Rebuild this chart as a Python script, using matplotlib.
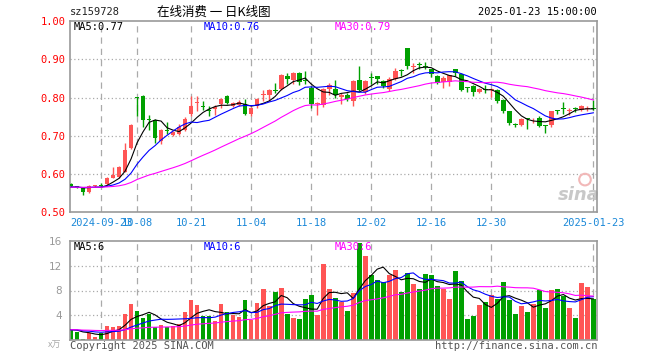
import numpy as np
import pandas as pd
import matplotlib
matplotlib.use("Agg")
import matplotlib.pyplot as plt

# daily candles, 2024-09-12 .. 2025-01-23
opens = [0.573, 0.567, 0.562, 0.553, 0.567, 0.570, 0.574, 0.589, 0.593, 0.606,
         0.668, 0.801, 0.805, 0.743, 0.742, 0.686, 0.716, 0.701, 0.705, 0.715,
         0.756, 0.785, 0.779, 0.768, 0.770, 0.783, 0.804, 0.779, 0.781, 0.782,
         0.756, 0.778, 0.806, 0.808, 0.820, 0.823, 0.856, 0.846, 0.865, 0.846,
         0.826, 0.784, 0.780, 0.822, 0.823, 0.802, 0.808, 0.791, 0.847, 0.814,
         0.853, 0.856, 0.843, 0.822, 0.849, 0.871, 0.929, 0.881, 0.888, 0.884,
         0.874, 0.856, 0.840, 0.840, 0.874, 0.863, 0.826, 0.830, 0.815, 0.822,
         0.820, 0.821, 0.793, 0.764, 0.730, 0.729, 0.745, 0.740, 0.747, 0.726,
         0.729, 0.765, 0.771, 0.764, 0.771, 0.767, 0.770, 0.771]
highs = [0.576, 0.569, 0.563, 0.571, 0.571, 0.575, 0.592, 0.617, 0.620, 0.681,
         0.730, 0.801, 0.806, 0.755, 0.745, 0.717, 0.735, 0.713, 0.730, 0.750,
         0.805, 0.803, 0.790, 0.777, 0.781, 0.799, 0.806, 0.788, 0.793, 0.797,
         0.776, 0.800, 0.821, 0.822, 0.839, 0.862, 0.865, 0.866, 0.868, 0.870,
         0.830, 0.788, 0.826, 0.839, 0.847, 0.812, 0.811, 0.845, 0.884, 0.845,
         0.865, 0.857, 0.845, 0.853, 0.877, 0.875, 0.930, 0.891, 0.893, 0.892,
         0.875, 0.858, 0.856, 0.860, 0.876, 0.865, 0.827, 0.832, 0.825, 0.832,
         0.826, 0.823, 0.795, 0.766, 0.733, 0.747, 0.746, 0.746, 0.752, 0.729,
         0.765, 0.768, 0.788, 0.773, 0.775, 0.780, 0.777, 0.794]
lows = [0.565, 0.563, 0.545, 0.550, 0.565, 0.565, 0.572, 0.588, 0.590, 0.604,
        0.665, 0.751, 0.723, 0.716, 0.682, 0.679, 0.705, 0.698, 0.702, 0.713,
        0.753, 0.764, 0.768, 0.751, 0.755, 0.773, 0.783, 0.774, 0.778, 0.755,
        0.753, 0.772, 0.790, 0.790, 0.812, 0.821, 0.835, 0.835, 0.832, 0.835,
        0.772, 0.755, 0.776, 0.808, 0.799, 0.784, 0.792, 0.777, 0.818, 0.810,
        0.835, 0.835, 0.825, 0.818, 0.845, 0.856, 0.876, 0.865, 0.874, 0.876,
        0.855, 0.835, 0.825, 0.830, 0.856, 0.817, 0.814, 0.803, 0.811, 0.812,
        0.802, 0.787, 0.760, 0.728, 0.723, 0.725, 0.717, 0.733, 0.722, 0.707,
        0.723, 0.758, 0.758, 0.755, 0.761, 0.765, 0.764, 0.768]
closes = [0.567, 0.566, 0.553, 0.569, 0.569, 0.568, 0.589, 0.597, 0.618, 0.663,
          0.729, 0.800, 0.742, 0.741, 0.694, 0.715, 0.712, 0.711, 0.722, 0.744,
          0.777, 0.787, 0.776, 0.766, 0.776, 0.795, 0.785, 0.785, 0.788, 0.758,
          0.773, 0.797, 0.808, 0.819, 0.818, 0.860, 0.848, 0.864, 0.840, 0.844,
          0.782, 0.786, 0.822, 0.834, 0.806, 0.807, 0.796, 0.843, 0.821, 0.843,
          0.851, 0.848, 0.830, 0.849, 0.869, 0.869, 0.882, 0.883, 0.886, 0.880,
          0.861, 0.839, 0.852, 0.858, 0.865, 0.821, 0.825, 0.814, 0.822, 0.820,
          0.822, 0.790, 0.764, 0.733, 0.729, 0.745, 0.744, 0.742, 0.726, 0.725,
          0.764, 0.764, 0.770, 0.765, 0.770, 0.777, 0.771, 0.769]
volumes = [1.66, 1.4, 0.27, 1.1, 0.6, 1.1, 2.35, 2.14, 2.3, 4.2,
           5.8, 4.7, 3.6, 4.17, 2.14, 2.5, 2.1, 2.35, 2.67, 4.55,
           6.47, 5.67, 3.9, 3.9, 3.1, 5.83, 4.55, 4.1, 3.74, 6.47,
           3.3, 6.0, 8.3, 5.56, 7.75, 8.4, 4.2, 3.6, 3.4, 6.63,
           7.27, 4.06, 12.2, 8.2, 6.85, 6.2, 4.7, 7.65, 15.7, 13.6,
           10.5, 9.7, 9.3, 10.5, 11.3, 7.8, 10.86, 9.0, 8.3, 10.6,
           10.5, 8.7, 8.3, 6.7, 11.1, 9.5, 3.4, 3.96, 5.67, 6.2,
           7.2, 6.7, 9.36, 6.4, 4.2, 5.56, 4.6, 5.83, 8.1, 5.2,
           8.07, 8.3, 7.1, 5.24, 3.64, 9.2, 8.5, 6.7]

# level of the (unshown) days before the window
prior_close = 0.565
prior_volume = 1.7

tick_pos = [5, 11, 20, 30, 40, 50, 60, 70, 87]
tick_labels = ["2024-09-23", "10-08", "10-21", "11-04", "11-18",
               "12-02", "12-16", "12-30", "2025-01-23"]

RED = "#ff5555"
GREEN = "#00a000"
GRID = "#aaaaaa"
MONO = "DejaVu Sans Mono"
CJK = ["Noto Sans CJK SC", "DejaVu Sans"]

x = np.arange(len(closes))
o = np.array(opens); c = np.array(closes)
colors = [RED if cc >= oo else GREEN for oo, cc in zip(o, c)]

def ma(values, prior, n):
    s = pd.Series([prior] * 29 + list(values))
    return s.rolling(n).mean().to_numpy()[29:]

W, H = 660, 360
def fx(px): return px / W
def fy(py): return 1 - py / H

fig = plt.figure(figsize=(6.6, 3.6), dpi=100)
ax = fig.add_axes([fx(70), fy(212), (597 - 70) / W, (212 - 21.3) / H])
axv = fig.add_axes([fx(70), fy(340.3), (597 - 70) / W, (340.3 - 240.7) / H])

for a in (ax, axv):
    a.set_xlim(-0.17, 87.6)
    for s in a.spines.values():
        s.set_color("#999999")
        s.set_linewidth(1.2)
    a.tick_params(length=0)
    for t in tick_pos:
        a.axvline(t, color=GRID, lw=0.9, ls=(0, (5, 4)), zorder=0)

# price panel
ax.set_ylim(0.5, 1.0)
for lvl in [0.6, 0.7, 0.8, 0.9]:
    ax.axhline(lvl, color=GRID, lw=0.9, ls=(0, (1, 2)), zorder=0)
ax.vlines(x, lows, highs, colors=colors, lw=1.0, zorder=2)
body = np.maximum(np.abs(c - o), 0.0025)
ax.bar(x, body, bottom=np.minimum(o, c), width=0.78, color=colors, zorder=3)
ax.plot(x, ma(closes, prior_close, 5), color="black", lw=0.8, zorder=4)
ax.plot(x, ma(closes, prior_close, 10), color="#0000ff", lw=0.8, zorder=4)
ax.plot(x, ma(closes, prior_close, 30), color="#ff00ff", lw=0.8, zorder=4)

ax.set_yticks([0.5, 0.6, 0.7, 0.8, 0.9, 1.0])
ax.set_yticklabels(["0.50", "0.60", "0.70", "0.80", "0.90", "1.00"],
                   color="#ff0000", family=MONO, fontsize=7.5)
ax.tick_params(axis="y", pad=3)
ax.set_xticks(tick_pos)
ax.set_xticklabels(tick_labels, color="#1a88d8", family=MONO, fontsize=7.5)
ax.tick_params(axis="x", pad=4)

# faint sina watermark, bottom right of the price panel
ax.scatter([85.6], [0.585], s=70, facecolors="none", edgecolors="#f2b8b8",
           linewidths=1.5, zorder=1)
ax.text(84.6, 0.545, "sina", color="#c8c8c8", fontsize=13, fontweight="bold",
        style="italic", ha="center", va="center", zorder=1)

# volume panel
axv.set_ylim(0, 16)
for lvl in [4, 8, 12]:
    axv.axhline(lvl, color=GRID, lw=0.9, ls=(0, (1, 2)), zorder=0)
axv.bar(x, volumes, width=0.78, color=colors, zorder=2)
axv.plot(x, ma(volumes, prior_volume, 5), color="black", lw=0.8, zorder=4)
axv.plot(x, ma(volumes, prior_volume, 10), color="#0000ff", lw=0.8, zorder=4)
axv.plot(x, ma(volumes, prior_volume, 30), color="#ff00ff", lw=0.8, zorder=4)
axv.set_yticks([4, 8, 12, 16])
axv.set_yticklabels(["4", "8", "12", "16"], color="#999999", fontsize=7.5)
axv.tick_params(axis="y", pad=6)
axv.set_xticks([])

# header and labels
fig.text(fx(70), fy(12), "sz159728", family=MONO, fontsize=7.5, color="#222222",
         va="center")
fig.text(fx(214), fy(12), "在线消费 一 日K线图", family=CJK,
         fontsize=9, ha="center", va="center")
fig.text(fx(597), fy(12), "2025-01-23 15:00:00", family=MONO, fontsize=7.5,
         ha="right", va="center")

fig.text(fx(74), fy(27), "MA5:0.77", family=MONO, fontsize=7.5, color="black", va="center")
fig.text(fx(204), fy(27), "MA10:0.76", family=MONO, fontsize=7.5, color="#0000ff", va="center")
fig.text(fx(335), fy(27), "MA30:0.79", family=MONO, fontsize=7.5, color="#ff00ff", va="center")
fig.text(fx(74), fy(247), "MA5:6", family=MONO, fontsize=7.5, color="black", va="center")
fig.text(fx(204), fy(247), "MA10:6", family=MONO, fontsize=7.5, color="#0000ff", va="center")
fig.text(fx(335), fy(247), "MA30:6", family=MONO, fontsize=7.5, color="#ff00ff", va="center")

fig.text(fx(48), fy(345), "x万", family=CJK, fontsize=6.5,
         color="#aaaaaa", va="center")
fig.text(fx(70), fy(346), "Copyright 2025 SINA.COM", family=MONO, fontsize=7.5,
         color="#555555", va="center")
fig.text(fx(597), fy(346), "http://finance.sina.com.cn", family=MONO, fontsize=7.5,
         color="#555555", ha="right", va="center")

fig.savefig("out.png", dpi=100)
